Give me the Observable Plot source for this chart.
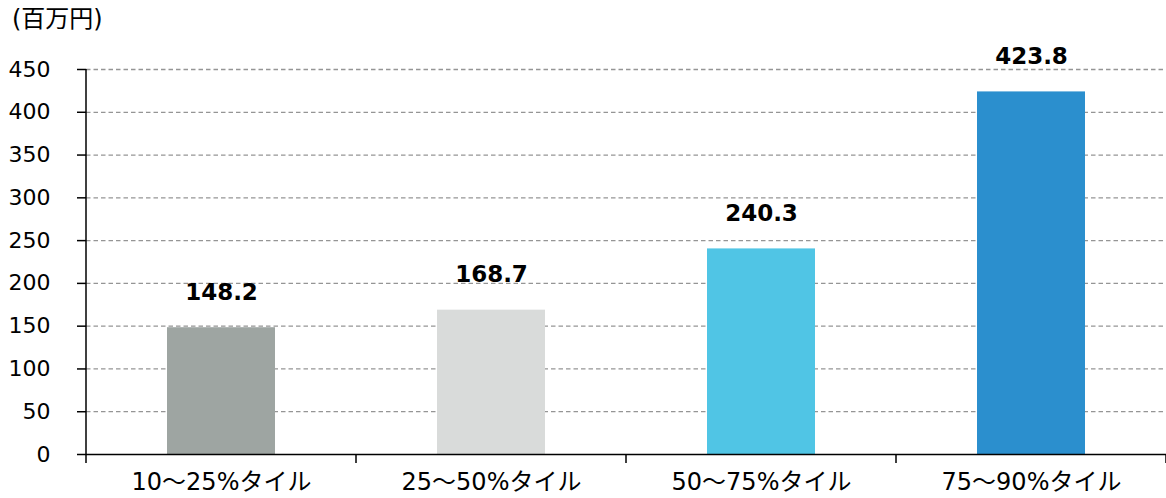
<!DOCTYPE html>
<html>
<head>
<meta charset="utf-8">
<script src="https://cdn.jsdelivr.net/npm/d3@7"></script>
<script src="https://cdn.jsdelivr.net/npm/@observablehq/plot@0.6"></script>
<style>
  body { margin: 0; background: #fff; font-family: "DejaVu Sans", "Noto Sans CJK JP", sans-serif; }
  #wrap { position: relative; width: 1166px; height: 498px; }
  #unit { position: absolute; left: 12px; top: 5px; font-size: 24px; color: #000; line-height: 1.2; }
  #wrap svg { position: absolute; left: 0; top: 0; }
</style>
</head>
<body>
<div id="wrap"><div id="unit">(百万円)</div></div>
<script>
// Percentile bands and their values (million yen)
const categories = ["10～25%タイル", "25～50%タイル", "50～75%タイル", "75～90%タイル"];
const values = [148.2, 168.7, 240.3, 423.8];
const barColors = ["#9ea5a2", "#d9dbda", "#50c5e5", "#2b8fce"];
const yTicks = [0, 50, 100, 150, 200, 250, 300, 350, 400, 450];

const data = categories.map((c, i) => ({category: c, value: values[i]}));
const FONT = '"DejaVu Sans", "Noto Sans CJK JP", sans-serif';

// Axis lines: vertical y axis line plus x-axis ticks on the category boundaries
function axisFrame(index, scales, vals, dims) {
  const g = d3.create("svg:g").attr("stroke", "#000").attr("stroke-width", 1.5);
  const y0 = scales.y(yTicks[0]);
  const yTop = scales.y(yTicks[yTicks.length - 1]);
  const left = dims.marginLeft;
  const right = dims.width - dims.marginRight;
  g.append("line").attr("x1", left).attr("x2", left).attr("y1", y0).attr("y2", yTop);
  const n = categories.length;
  for (let k = 0; k <= n; k++) {
    const x = left + k * (right - left) / n;
    g.append("line").attr("x1", x).attr("x2", x).attr("y1", y0).attr("y2", y0 + 9);
  }
  return g.node();
}

const chart = Plot.plot({
  width: 1166,
  height: 498,
  marginTop: 69,
  marginBottom: 44,
  marginLeft: 86,
  marginRight: 0,
  style: {fontFamily: FONT, fontSize: "22px", color: "#000", background: "transparent", overflow: "visible"},
  x: {domain: categories, paddingInner: 0.6, paddingOuter: 0.3, label: null},
  y: {domain: [0, 450], label: null},
  color: {domain: categories, range: barColors},
  marks: [
    Plot.ruleY(yTicks.filter(d => d > 0), {stroke: "#959595", strokeWidth: 1.3, strokeDasharray: "4.5,3"}),
    Plot.barY(data, {x: "category", y: "value", fill: "category"}),
    Plot.text(data, {
      x: "category", y: "value", text: d => d.value.toFixed(1),
      dy: -28, lineAnchor: "bottom", fontWeight: "bold", fontSize: 23, fill: "#000"
    }),
    Plot.ruleY([0], {stroke: "#000", strokeWidth: 1.5}),
    axisFrame,
    Plot.axisY({ticks: yTicks, tickSize: 9, tickPadding: 27, tickFormat: d => String(d), stroke: "#000", strokeWidth: 1.5, fontSize: 22}),
    Plot.axisX({tickSize: 0, tickPadding: 18, fontSize: 24})
  ]
});

document.getElementById("wrap").appendChild(chart);
</script>
</body>
</html>
